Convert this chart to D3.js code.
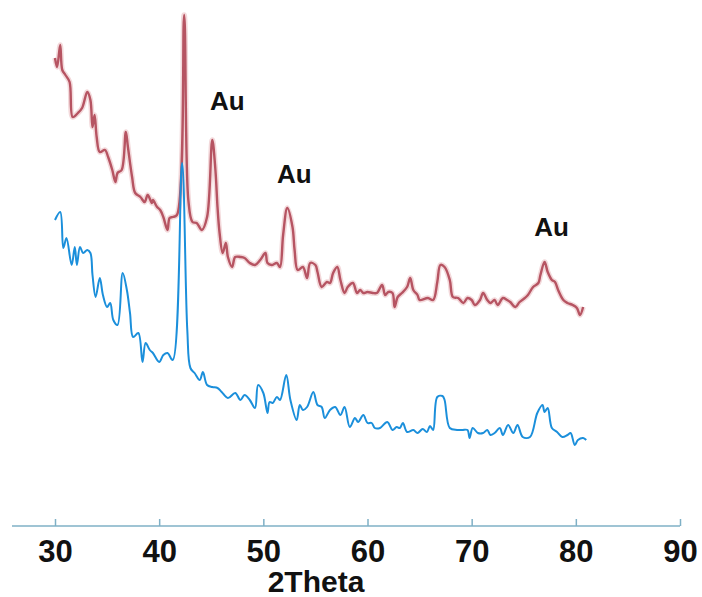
<!DOCTYPE html>
<html>
<head>
<meta charset="utf-8">
<script src="https://cdn.jsdelivr.net/npm/d3@7"></script>
<style>
  body { margin: 0; background: #fff; }
  text { font-family: "Liberation Sans", Arial, sans-serif; font-weight: bold; fill: #111; }
</style>
</head>
<body>
<div id="chart"></div>
<script>
// x ticks (2Theta)
const xTicks = [30, 40, 50, 60, 70, 80, 90];

// upper pattern (red)
const redTheta = [30.0, 30.2, 30.5, 30.7, 31.0, 31.4, 31.7, 32.2, 32.6, 33.1, 33.4, 33.6, 33.8, 34.0, 34.3, 34.8, 35.1, 35.5, 35.8, 36.0,
  36.4, 36.8, 37.0, 37.4, 37.7, 38.2, 38.6, 38.9, 39.3, 39.4, 39.8, 40.1, 40.4, 40.8, 41.0, 41.3, 41.7, 42.4, 42.8, 43.2,
  43.6, 44.1, 44.6, 45.1, 45.4, 45.6, 45.8, 46.1, 46.4, 46.6, 47.0, 47.3, 47.8, 48.2, 48.7, 49.2, 49.7, 50.2, 50.4, 50.8,
  51.3, 51.6, 51.9, 52.3, 52.8, 53.0, 53.3, 53.8, 54.2, 54.5, 55.0, 55.2, 55.6, 56.1, 56.4, 56.7, 57.1, 57.4, 57.8, 58.1,
  58.6, 59.0, 59.3, 59.6, 60.0, 60.5, 60.9, 61.4, 61.7, 62.0, 62.4, 62.6, 62.9, 63.3, 63.8, 64.1, 64.4, 64.8, 65.0, 65.8,
  66.3, 66.7, 67.0, 67.4, 67.9, 68.2, 68.7, 69.2, 69.6, 70.0, 70.3, 70.8, 71.1, 71.5, 71.8, 72.2, 72.5, 73.0, 73.4, 73.7,
  74.2, 74.6, 75.1, 75.4, 75.9, 76.4, 76.6, 77.0, 77.3, 77.7, 78.0, 78.3, 78.8, 79.2, 79.7, 80.1, 80.4, 80.7];
const redCounts = [467, 458, 480, 455, 450, 443, 408, 412, 417, 433, 425, 398, 410, 388, 373, 375, 368, 355, 343, 352,
  355, 393, 378, 348, 332, 328, 323, 330, 322, 325, 318, 315, 308, 295, 307, 308, 310, 510, 325, 303,
  302, 295, 308, 385, 355, 318, 292, 272, 282, 268, 258, 268, 268, 267, 262, 260, 265, 272, 262, 260,
  262, 258, 290, 317, 298, 275, 255, 258, 247, 262, 260, 253, 238, 243, 242, 252, 258, 245, 232, 238,
  242, 232, 235, 232, 233, 232, 232, 240, 230, 233, 232, 218, 228, 232, 238, 247, 235, 230, 225, 227,
  225, 243, 260, 258, 245, 228, 227, 222, 227, 225, 220, 225, 232, 225, 222, 225, 220, 227, 225, 223,
  218, 223, 227, 230, 238, 242, 250, 263, 253, 245, 243, 235, 225, 222, 220, 217, 210, 218];

// lower pattern (blue)
const blueTheta = [30.0, 30.5, 30.8, 31.1, 31.6, 31.9, 32.1, 32.4, 32.7, 33.1, 33.4, 33.6, 33.9, 34.3, 34.6, 35.0, 35.3, 35.6, 36.0, 36.5,
  36.9, 37.2, 37.5, 38.0, 38.4, 38.7, 39.1, 39.4, 40.0, 40.4, 40.8, 41.3, 42.2, 42.7, 43.0, 43.4, 43.9, 44.2, 44.6, 45.1,
  45.6, 46.0, 46.6, 47.3, 47.8, 48.2, 48.7, 49.2, 49.5, 50.0, 50.4, 50.6, 50.9, 51.3, 51.6, 52.2, 52.6, 53.2, 53.5, 53.8,
  54.2, 54.8, 55.2, 55.6, 55.9, 56.4, 56.9, 57.4, 57.8, 58.3, 58.8, 59.1, 59.6, 60.0, 60.4, 60.7, 61.2, 61.9, 62.4, 62.8,
  63.1, 63.4, 63.8, 64.4, 64.8, 65.3, 65.7, 66.0, 66.3, 66.7, 67.2, 67.4, 67.9, 68.6, 69.1, 69.6, 69.8, 70.1, 70.6, 71.1,
  71.5, 71.8, 72.2, 72.7, 73.0, 73.5, 74.0, 74.4, 74.9, 75.6, 76.3, 76.8, 77.0, 77.3, 77.7, 78.2, 78.7, 79.2, 79.5, 79.9,
  80.2, 80.7, 81.0];
const blueCounts = [305, 313, 277, 287, 260, 278, 260, 278, 272, 275, 272, 250, 228, 247, 230, 218, 222, 205, 200, 252,
  235, 212, 188, 192, 163, 182, 175, 172, 163, 170, 172, 165, 362, 195, 157, 152, 145, 153, 140, 138,
  137, 133, 127, 132, 125, 130, 125, 117, 140, 132, 112, 123, 122, 128, 125, 150, 125, 105, 120, 115,
  118, 133, 120, 118, 107, 115, 118, 110, 118, 98, 107, 103, 110, 102, 102, 97, 97, 103, 95, 98,
  97, 102, 93, 95, 92, 96, 93, 99, 95, 128, 129, 125, 97, 95, 95, 95, 87, 97, 92, 92,
  95, 90, 92, 97, 90, 100, 92, 100, 88, 88, 112, 120, 113, 117, 97, 93, 88, 90, 92, 80,
  85, 87, 85];

// Au peak labels (2Theta of peak, intensity of peak)
const auTheta = [45.1, 52.3, 77.0];
const auCounts = [385, 317, 263];

const W = 702, H = 597;
const axisY = 526;

const svg = d3.select("#chart").append("svg")
  .attr("width", W).attr("height", H);

const x = d3.scaleLinear().domain([30, 90]).range([55, 680]);
const y = d3.scaleLinear().domain([0, 525]).range([axisY - 1, 0]);

const line = d3.line()
  .x(d => x(d[0])).y(d => y(d[1]))
  .curve(d3.curveCatmullRom.alpha(0.5));

const red = d3.zip(redTheta, redCounts);
const blue = d3.zip(blueTheta, blueCounts);

// soft halo under the red trace like in the scan
svg.append("path").datum(red)
  .attr("fill", "none").attr("stroke", "#f3d9db").attr("stroke-width", 5.5)
  .attr("stroke-linejoin", "round").attr("d", line);
svg.append("path").datum(red)
  .attr("fill", "none").attr("stroke", "#b65462").attr("stroke-width", 2.4)
  .attr("stroke-linejoin", "round").attr("d", line);

svg.append("path").datum(blue)
  .attr("fill", "none").attr("stroke", "#1b8fdb").attr("stroke-width", 2)
  .attr("stroke-linejoin", "round").attr("d", line);

// Au labels
svg.selectAll("text.au").data(auTheta).enter().append("text")
  .attr("class", "au")
  .attr("x", (d, i) => x(d) + [15, 7, 7][i])
  .attr("y", (d, i) => y(auCounts[i]) - [30, 25, 26][i])
  .attr("text-anchor", "middle")
  .style("font-size", "26px")
  .text("Au");

// x axis
const xAxis = d3.axisBottom(x).tickValues(xTicks).tickSize(-7).tickFormat(d3.format("d"));
const gx = svg.append("g").attr("transform", `translate(0,${axisY})`).call(xAxis);
gx.select(".domain").attr("d", "M12,0H680").attr("stroke", "#7fb0c6").attr("stroke-width", 1.5);
gx.selectAll(".tick line").attr("stroke", "#7fb0c6").attr("stroke-width", 1.5);
gx.selectAll(".tick text")
  .attr("y", 36).attr("dy", 0)
  .attr("fill", "#111")
  .style("font-size", "31px")
  .style("font-family", "'Liberation Sans', Arial, sans-serif")
  .style("font-weight", "bold");

svg.append("text")
  .attr("x", 316).attr("y", 592)
  .attr("text-anchor", "middle")
  .style("font-size", "30px")
  .text("2Theta");
</script>
</body>
</html>
